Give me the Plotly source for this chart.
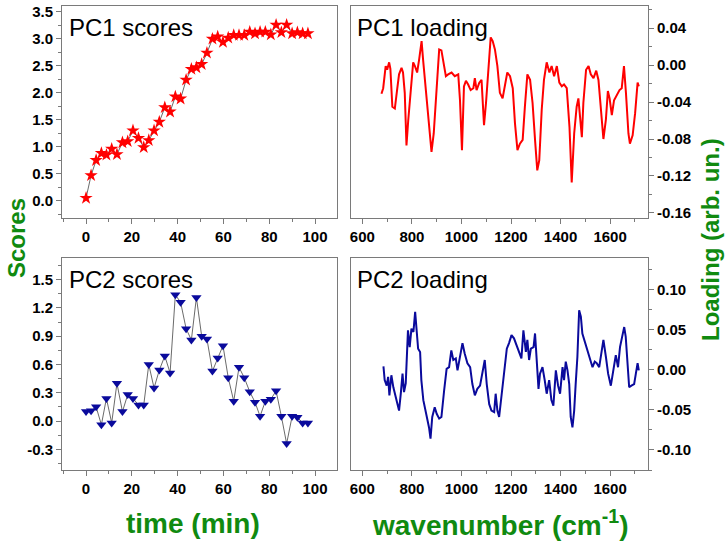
import plotly.graph_objects as go

# ---------------- data ----------------
time_min = [0, 2.2, 4.4, 6.7, 8.9, 11.2, 13.5, 15.9, 18.2, 20.5, 22.9, 25.2, 27.4, 29.7,
            32.0, 34.4, 36.7, 39.0, 41.3, 43.7, 46.0, 48.2, 50.5, 52.8, 55.2, 57.5, 59.8,
            62.1, 64.5, 66.8, 69.1, 71.5, 73.8, 76.0, 78.3, 80.7, 83.0, 85.3, 87.6, 90.0,
            92.3, 94.6, 96.9]
pc1_scores = [0.05, 0.47, 0.75, 0.88, 0.85, 0.96, 0.86, 1.08, 1.10, 1.30, 1.16, 0.99, 1.12,
              1.30, 1.46, 1.73, 1.65, 1.93, 1.89, 2.24, 2.44, 2.47, 2.53, 2.74, 3.00, 3.04,
              2.94, 3.02, 3.07, 3.07, 3.07, 3.13, 3.10, 3.13, 3.13, 3.08, 3.26, 3.12, 3.26,
              3.10, 3.12, 3.10, 3.10]
pc2_scores = [0.10, 0.11, 0.15, -0.04, 0.24, -0.02, 0.40, 0.10, 0.28, 0.24, 0.17, 0.17, 0.60,
              0.35, 0.54, 0.69, 0.51, 1.34, 1.26, 0.98, 0.86, 1.31, 0.90, 0.87, 0.53, 0.67,
              0.80, 0.46, 0.21, 0.57, 0.46, 0.31, 0.20, 0.05, 0.21, 0.23, 0.32, 0.05, -0.24,
              0.05, 0.04, -0.02, -0.02]

pc1_wn = [677, 684, 694, 700, 708, 713, 721, 731, 740, 748, 758, 764, 771, 778, 785, 794, 805,
          812, 821, 829, 839, 845, 856, 870, 879, 888, 899, 910, 919, 929, 937, 946, 960, 973,
          987, 994, 1002, 1010, 1018, 1027, 1037, 1048, 1054, 1061, 1072, 1081, 1091, 1099,
          1108, 1118, 1126, 1135, 1145, 1155, 1166, 1176, 1185, 1196, 1207, 1216, 1226, 1236,
          1247, 1256, 1266, 1277, 1287, 1297, 1306, 1314, 1324, 1333, 1344, 1355, 1364, 1374,
          1385, 1395, 1405, 1414, 1425, 1436, 1445, 1455, 1465, 1472, 1479, 1486, 1492, 1503,
          1513, 1522, 1533, 1544, 1553, 1562, 1573, 1583, 1591, 1598, 1607, 1616, 1627, 1638,
          1647, 1656, 1664, 1674, 1680, 1691, 1701, 1711, 1716]
pc1_loading = [-0.031, -0.025, -0.001, -0.005, 0.003, -0.004, -0.045, -0.047, -0.027, -0.010,
               -0.003, -0.008, -0.030, -0.087, -0.060, -0.030, 0.003, -0.001, -0.008, 0.006,
               0.026, 0.006, -0.027, -0.067, -0.094, -0.074, -0.023, 0.017, 0.016, -0.001,
               -0.012, -0.010, -0.008, -0.012, -0.010, -0.038, -0.092, -0.023, -0.017, -0.021,
               -0.027, -0.025, -0.014, -0.027, -0.019, -0.016, -0.065, -0.041, -0.001, 0.030,
               0.026, 0.017, -0.001, -0.030, -0.036, -0.023, -0.008, -0.012, -0.025, -0.063,
               -0.092, -0.085, -0.081, -0.045, -0.010, -0.016, -0.041, -0.081, -0.114, -0.103,
               -0.048, -0.016, 0.003, -0.008, -0.001, -0.012, -0.001, -0.019, -0.023, -0.021,
               -0.025, -0.067, -0.127, -0.074, -0.045, -0.036, -0.056, -0.078, -0.041, -0.005,
               -0.001, -0.010, -0.014, -0.006, -0.016, -0.045, -0.080, -0.059, -0.028, -0.036,
               -0.054, -0.038, -0.032, -0.027, -0.025, -0.001, -0.030, -0.074, -0.085, -0.076,
               -0.052, -0.019, -0.023]

pc2_wn = [685, 690, 698, 704, 709, 717, 725, 735, 748, 755, 762, 768, 775, 784, 791, 798, 806,
          813, 819, 825, 833, 838, 846, 856, 862, 869, 875, 882, 892, 900, 910, 919, 930, 940,
          950, 959, 967, 977, 984, 993, 1004, 1013, 1024, 1035, 1044, 1054, 1064, 1075, 1085,
          1094, 1102, 1112, 1121, 1132, 1138, 1145, 1152, 1161, 1172, 1183, 1192, 1202, 1212,
          1223, 1233, 1242, 1250, 1260, 1266, 1273, 1280, 1291, 1297, 1304, 1311, 1317, 1327,
          1336, 1344, 1354, 1363, 1371, 1381, 1390, 1398, 1408, 1414, 1421, 1428, 1435, 1441,
          1448, 1455, 1461, 1468, 1475, 1482, 1488, 1498, 1509, 1519, 1529, 1538, 1546, 1556,
          1565, 1573, 1583, 1592, 1603, 1614, 1623, 1632, 1640, 1650, 1657, 1663, 1670, 1677,
          1686, 1697, 1704, 1711, 1716]
pc2_loading = [0.004, -0.013, -0.020, -0.009, -0.032, -0.007, -0.022, -0.034, -0.051, -0.030,
               -0.005, -0.028, -0.017, 0.049, 0.028, 0.051, 0.047, 0.072, 0.049, 0.026, 0.022,
               -0.013, -0.038, -0.051, -0.061, -0.072, -0.086, -0.059, -0.047, -0.055, -0.061,
               -0.059, -0.026, 0.001, 0.003, 0.024, 0.012, 0.014, -0.001, 0.016, 0.033, 0.020,
               0.008, 0.003, -0.018, -0.032, -0.024, -0.020, -0.001, 0.012, -0.018, -0.043,
               -0.051, -0.053, -0.030, -0.051, -0.059, -0.034, 0.003, 0.026, 0.033, 0.043,
               0.039, 0.030, 0.022, 0.014, 0.049, 0.022, 0.037, 0.012, 0.026, 0.028, 0.045,
               0.016, -0.024, -0.005, 0.003, -0.013, -0.030, -0.013, -0.038, -0.045, -0.001,
               -0.020, -0.030, 0.003, -0.013, 0.010, -0.001, -0.018, -0.059, -0.072, -0.051,
               -0.018, 0.016, 0.074, 0.066, 0.045, 0.035, 0.026, 0.016, 0.003, 0.010, 0.008,
               0.003, 0.020, 0.037, 0.016, -0.005, -0.020, -0.001, 0.018, 0.003, 0.028, 0.043,
               0.053, 0.041, 0.014, -0.022, -0.020, -0.018, -0.005, 0.008, -0.001]

time_ticks = [0, 20, 40, 60, 80, 100]
wn_ticks = [600, 800, 1000, 1200, 1400, 1600]
pc1_score_ticks = [0.0, 0.5, 1.0, 1.5, 2.0, 2.5, 3.0, 3.5]
pc1_score_labels = ["0.0", "0.5", "1.0", "1.5", "2.0", "2.5", "3.0", "3.5"]
pc2_score_ticks = [-0.3, 0.0, 0.3, 0.6, 0.9, 1.2, 1.5]
pc2_score_labels = ["-0.3", "0.0", "0.3", "0.6", "0.9", "1.2", "1.5"]
pc1_load_ticks = [-0.16, -0.12, -0.08, -0.04, 0.0, 0.04]
pc1_load_labels = ["-0.16", "-0.12", "-0.08", "-0.04", "0.00", "0.04"]
pc2_load_ticks = [-0.10, -0.05, 0.0, 0.05, 0.10]
pc2_load_labels = ["-0.10", "-0.05", "0.00", "0.05", "0.10"]

# ---------------- style ----------------
W, H = 726, 545
RED = "#ff0000"
NAVY = "#0a0a9c"
GREEN = "#108a10"
FRAME = "#7a7a7a"
FONT = "Liberation Sans, Arial, sans-serif"
tickfont = dict(family=FONT, size=15, color="black", weight="bold")


def px_x(a, b):
    return [a / W, b / W]


def px_y(top, bottom):
    return [1 - bottom / H, 1 - top / H]


def axis(domain, rng, tickvals, ticktext, minor_dtick, side=None, anchor=None):
    d = dict(domain=domain, range=rng, tickmode="array", tickvals=tickvals, ticktext=ticktext,
             ticks="outside", ticklen=5, tickwidth=1, tickcolor=FRAME,
             showline=True, linecolor=FRAME, linewidth=1, mirror=True, automargin=False,
             showgrid=False, zeroline=False, tickfont=tickfont, anchor=anchor,
             minor=dict(dtick=minor_dtick, ticks="outside", ticklen=3, tickcolor=FRAME,
                        showgrid=False))
    if side:
        d["side"] = side
    return d


fig = go.Figure()

fig.add_trace(go.Scatter(x=time_min, y=pc1_scores, mode="lines+markers",
                         line=dict(color="#444444", width=0.8),
                         marker=dict(symbol="star", size=10, color=RED,
                                     line=dict(width=0)),
                         xaxis="x", yaxis="y"))
fig.add_trace(go.Scatter(x=pc1_wn, y=pc1_loading, mode="lines",
                         line=dict(color=RED, width=2),
                         xaxis="x2", yaxis="y2"))
fig.add_trace(go.Scatter(x=time_min, y=pc2_scores, mode="lines+markers",
                         line=dict(color="#444444", width=0.8),
                         marker=dict(symbol="triangle-down", size=9, color=NAVY,
                                     line=dict(width=0)),
                         xaxis="x3", yaxis="y3"))
fig.add_trace(go.Scatter(x=pc2_wn, y=pc2_loading, mode="lines",
                         line=dict(color=NAVY, width=2),
                         xaxis="x4", yaxis="y4"))

top_row = px_y(6, 218)
bot_row = px_y(258, 470)
left_col = px_x(62, 337)
right_col = px_x(350.5, 648)

fig.update_layout(
    template="none",
    width=W, height=H, margin=dict(l=0, r=0, t=0, b=0, autoexpand=False),
    paper_bgcolor="white", plot_bgcolor="white", showlegend=False,
    xaxis=axis(left_col, [-10.5, 109.6], time_ticks, [str(v) for v in time_ticks], 10, anchor="y"),
    yaxis=axis(top_row, [-0.32, 3.61], pc1_score_ticks, pc1_score_labels, 0.25, anchor="x"),
    xaxis2=axis(right_col, [552, 1753], wn_ticks, [str(v) for v in wn_ticks], 100, anchor="y2"),
    yaxis2=axis(top_row, [-0.1655, 0.064], pc1_load_ticks, pc1_load_labels, 0.02,
                side="right", anchor="x2"),
    xaxis3=axis(left_col, [-10.5, 109.6], time_ticks, [str(v) for v in time_ticks], 10, anchor="y3"),
    yaxis3=axis(bot_row, [-0.52, 1.73], pc2_score_ticks, pc2_score_labels, 0.15, anchor="x3"),
    xaxis4=axis(right_col, [552, 1753], wn_ticks, [str(v) for v in wn_ticks], 100, anchor="y4"),
    yaxis4=axis(bot_row, [-0.125, 0.139], pc2_load_ticks, pc2_load_labels, 0.025,
                side="right", anchor="x4"),
)

panel_font = dict(family=FONT, size=24, color="black")
title_font = dict(family=FONT, size=28, color=GREEN, weight="bold")
ann = [
    dict(text="PC1 scores", x=67 / W, y=1 - 27 / H, xanchor="left", yanchor="middle", font=panel_font),
    dict(text="PC1 loading", x=355 / W, y=1 - 27 / H, xanchor="left", yanchor="middle", font=panel_font),
    dict(text="PC2 scores", x=67 / W, y=1 - 279 / H, xanchor="left", yanchor="middle", font=panel_font),
    dict(text="PC2 loading", x=355 / W, y=1 - 279 / H, xanchor="left", yanchor="middle", font=panel_font),
    dict(text="Scores", x=16 / W, y=1 - 238 / H, textangle=-90, xanchor="center", yanchor="middle",
         font=dict(family=FONT, size=24, color=GREEN, weight="bold")),
    dict(text="Loading (arb. un.)", x=710 / W, y=1 - 240 / H, textangle=-90, xanchor="center",
         yanchor="middle", font=dict(family=FONT, size=24, color=GREEN, weight="bold")),
    dict(text="time (min)", x=193 / W, y=1 - 523 / H, xanchor="center", yanchor="middle", font=title_font),
    dict(text="wavenumber (cm<sup>-1</sup>)", x=500 / W, y=1 - 523 / H, xanchor="center",
         yanchor="middle", font=title_font),
]
for a in ann:
    a.update(xref="paper", yref="paper", showarrow=False)
fig.update_layout(annotations=ann)

fig.write_html("out.html", config={"displayModeBar": False},
               post_script="document.body.style.margin='0';document.body.style.overflow='hidden';")
